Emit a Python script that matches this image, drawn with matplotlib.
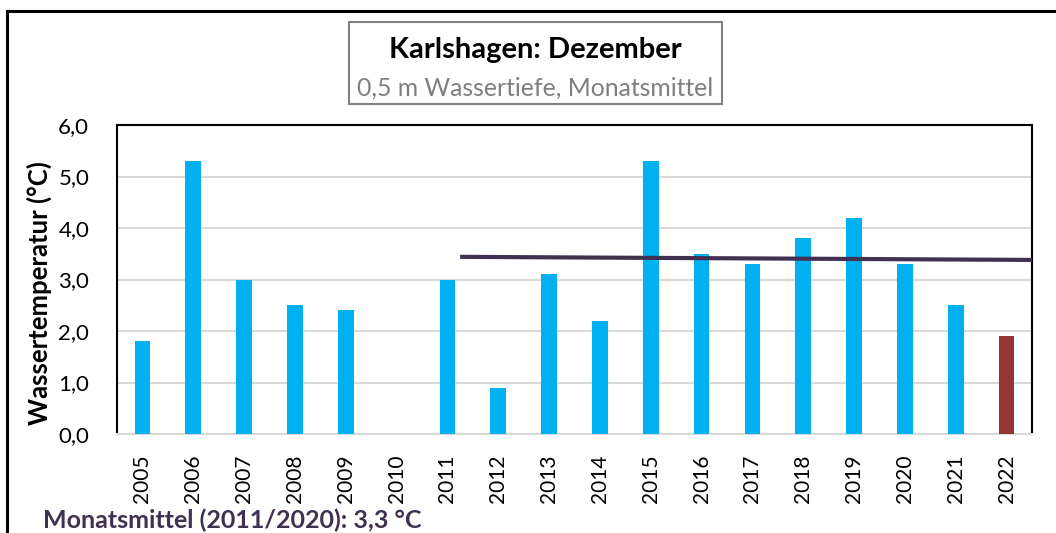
import matplotlib
matplotlib.use("Agg")
import matplotlib.pyplot as plt
from matplotlib.patches import Rectangle
from matplotlib.lines import Line2D
import numpy as np

years = ["2005", "2006", "2007", "2008", "2009", "2010", "2011", "2012", "2013",
         "2014", "2015", "2016", "2017", "2018", "2019", "2020", "2021", "2022"]
temps = [1.8, 5.3, 3.0, 2.5, 2.4, np.nan, 3.0, 0.9, 3.1,
         2.2, 5.3, 3.5, 3.3, 3.8, 4.2, 3.3, 2.5, 1.9]
trend_x = [6.25, 17.5]
trend_y = [3.44, 3.38]
yticks = [0.0, 1.0, 2.0, 3.0, 4.0, 5.0, 6.0]

plt.rcParams['font.family'] = ['Lato', 'DejaVu Sans']

W, H = 1056, 533
fig = plt.figure(figsize=(W / 100, H / 100), dpi=100)

# outer frame
fig.add_artist(Line2D([7 / W, 7 / W], [0, 1 - 11 / H], transform=fig.transFigure,
                      color='black', lw=2.2))
fig.add_artist(Line2D([7 / W, 1], [1 - 11 / H, 1 - 11 / H], transform=fig.transFigure,
                      color='black', lw=2.2))

left, right, top, bottom = 117, 1032, 125, 434
ax = fig.add_axes([left / W, 1 - bottom / H, (right - left) / W, (bottom - top) / H])

x = np.arange(len(years))
colors = ['#00B0F0'] * (len(years) - 1) + ['#943634']
ax.bar(x, temps, width=0.31, color=colors, zorder=3)
ax.plot(trend_x, trend_y, color='#403151', lw=3, zorder=4, solid_capstyle='butt')

ax.set_xlim(-0.5, len(years) - 0.5)
ax.set_ylim(0, 6)
ax.set_yticks(yticks)
ax.set_yticklabels([f"{v:.1f}".replace('.', ',') for v in yticks], fontsize=16)
ax.set_xticks(x)
ax.set_xticklabels(years, rotation=90, fontsize=15)
ax.tick_params(axis='y', length=0, pad=20)
ax.tick_params(axis='x', length=0, pad=15)
ax.yaxis.grid(True, color='#D9D9D9', lw=1.5, zorder=0)
ax.set_axisbelow(True)
for s in ['left', 'top', 'right']:
    ax.spines[s].set_color('black')
    ax.spines[s].set_linewidth(1.5)
ax.spines['bottom'].set_color('#D9D9D9')
ax.spines['bottom'].set_linewidth(1.5)

ax.set_ylabel("Wassertemperatur (°C)", fontsize=18.5, fontweight='bold')
ax.yaxis.set_label_coords((52 - left) / (right - left), (bottom - 293) / (bottom - top))

# title box
fig.add_artist(Rectangle((349 / W, 1 - 104 / H), (722 - 349) / W, (104 - 22) / H,
                         transform=fig.transFigure, fill=True, facecolor='white',
                         edgecolor='#808080', lw=1.5))
fig.text(535 / W, 1 - 50 / H, "Karlshagen: Dezember", ha='center', va='center',
         fontsize=21, fontweight='bold', color='black')
fig.text(535 / W, 1 - 88 / H, "0,5 m Wassertiefe, Monatsmittel", ha='center', va='center',
         fontsize=17.8, color='#7F7F7F')

fig.text(43 / W, 1 - 520 / H, "Monatsmittel (2011/2020): 3,3 °C", ha='left', va='center',
         fontsize=18, fontweight='bold', color='#403151')

fig.savefig("out.png", dpi=100)
